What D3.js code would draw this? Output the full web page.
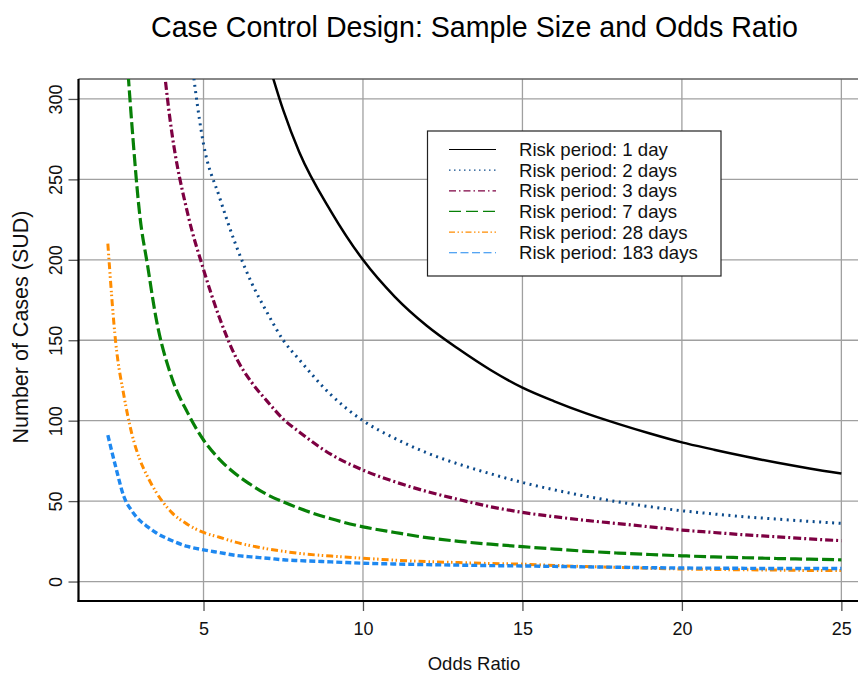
<!DOCTYPE html>
<html>
<head>
<meta charset="utf-8">
<script src="https://cdn.jsdelivr.net/npm/d3@7"></script>
<style>
  html, body { margin: 0; padding: 0; background: #ffffff; }
  svg { display: block; font-family: "Liberation Sans", Arial, sans-serif; }
</style>
</head>
<body>
<div id="chart"></div>
<script>
// ---------- data ----------
const oddsRatio = [2, 2.25, 2.5, 2.75, 3, 3.25, 3.5, 4, 4.5, 5, 5.5, 6, 6.5, 7, 7.5, 8, 9, 10,
                   11, 12, 13, 14, 15, 16, 17, 18, 19, 20, 21, 22, 23, 24, 25];

const risk1day   = [null, null, null, null, null, null, null, null, null, null, null, null, null,
                    325, 293, 267, 230, 200, 177, 159, 144.5, 131.5, 120.5, 112, 104.5, 98, 92, 86.5, 82, 77.7, 73.8, 70.3, 67.2];
const risk2days  = [null, null, null, null, null, null, null, null, 345, 272, 239, 210, 186, 167, 150, 138, 116, 100,
                    89, 80, 73, 67, 61.6, 57, 53, 49.5, 46.5, 44, 42, 40.2, 38.8, 37.4, 36.2];
const risk3days  = [null, null, null, null, null, null, 370, 280, 229, 194, 164, 140, 124, 112, 101, 93, 79, 69.3,
                    62, 56, 51, 46.5, 43, 40.3, 38, 36, 34, 32, 30.5, 29, 27.8, 26.5, 25.4];
const risk7days  = [null, null, 355, 285, 228, 196, 165, 127, 105, 88, 76, 67, 60, 54, 49.5, 45.5, 39, 34,
                    30.5, 27.3, 25, 23.2, 21.7, 20.2, 18.8, 17.7, 16.8, 16, 15.3, 14.8, 14.3, 13.9, 13.5];
const risk28days = [210, 148, 116, 92, 76, 65, 56, 43, 35.5, 30.5, 27.5, 24.5, 22.2, 20.3, 18.8, 17.5, 15.8, 14.5,
                    13.3, 12.4, 11.8, 11.2, 10.8, 10.0, 9.3, 8.8, 8.2, 7.8, 7.5, 7.3, 7.1, 6.9, 6.8];
const risk183days= [91, 71, 53, 44, 38, 34, 30.5, 25.5, 21.8, 19.7, 18, 16.3, 15.3, 14.5, 13.5, 13.0, 12.2, 11.4,
                    10.9, 10.5, 10.2, 9.9, 9.7, 9.4, 9.1, 8.9, 8.6, 8.4, 8.3, 8.2, 8.1, 8.1, 8.1];

const seriesNames = ["Risk period: 1 day", "Risk period: 2 days", "Risk period: 3 days",
                     "Risk period: 7 days", "Risk period: 28 days", "Risk period: 183 days"];
const seriesValues = [risk1day, risk2days, risk3days, risk7days, risk28days, risk183days];

const xTicks = [5, 10, 15, 20, 25];
const yTicks = [0, 50, 100, 150, 200, 250, 300];

const titleText = "Case Control Design: Sample Size and Odds Ratio";
const xLabel = "Odds Ratio";
const yLabel = "Number of Cases (SUD)";

// ---------- styles ----------
const colors = ["#000000", "#0b4a8b", "#7d0042", "#078007", "#ff8c00", "#1e88f0"];
const plotDash = [null, "2,4.5", "8,3,2,3", "12,4", "7,3,1.5,2.5,1.5,3", "6,3"];
const plotWidth = [2.5, 3, 3.2, 3.2, 3, 3.4];
const legendDash = [null, "1.5,3.5", "7,3,1.5,3", "12,5", "6,2.5,1.5,2.5,1.5,2.5", "8,3.5"];

// ---------- layout ----------
const W = 858, H = 676;
const mLeft = 78.5, mRight = 870.7, mTop = 79, mBottom = 601;

const svg = d3.select("#chart").append("svg")
  .attr("width", W).attr("height", H)
  .attr("viewBox", `0 0 ${W} ${H}`);

const x = d3.scaleLinear().domain([1.08, 25.92]).range([mLeft, mRight]);
const y = d3.scaleLinear().domain([-12.1, 312.4]).range([mBottom, mTop]);

svg.append("defs").append("clipPath").attr("id", "plotclip")
  .append("rect").attr("x", mLeft).attr("y", mTop)
  .attr("width", mRight - mLeft).attr("height", mBottom - mTop);

// grid
const grid = svg.append("g");
grid.selectAll("line.v").data(xTicks).enter().append("line")
  .attr("x1", d => x(d)).attr("x2", d => x(d))
  .attr("y1", mTop).attr("y2", mBottom)
  .attr("stroke", "#a0a0a0").attr("stroke-width", 1.3);
grid.selectAll("line.h").data(yTicks).enter().append("line")
  .attr("x1", mLeft).attr("x2", W)
  .attr("y1", d => y(d)).attr("y2", d => y(d))
  .attr("stroke", "#a0a0a0").attr("stroke-width", 1.3);
// top border
svg.append("line").attr("x1", mLeft).attr("x2", W).attr("y1", mTop).attr("y2", mTop)
  .attr("stroke", "#606060").attr("stroke-width", 1.5);

// curves
const line = d3.line()
  .defined(d => d[1] !== null)
  .x(d => x(d[0])).y(d => y(d[1]))
  .curve(d3.curveMonotoneX);

const curves = svg.append("g").attr("clip-path", "url(#plotclip)");
seriesValues.forEach((vals, i) => {
  const pts = oddsRatio.map((o, j) => [o, vals[j]]);
  const p = curves.append("path")
    .attr("d", line(pts))
    .attr("fill", "none")
    .attr("stroke", colors[i])
    .attr("stroke-width", plotWidth[i]);
  if (plotDash[i]) p.attr("stroke-dasharray", plotDash[i]);
});

// axes
const xAxis = d3.axisBottom(x).tickValues(xTicks).tickSize(10).tickPadding(11).tickFormat(d3.format("d"));
const gx = svg.append("g").attr("transform", `translate(0,${mBottom})`).call(xAxis);
gx.select(".domain").remove();
gx.selectAll(".tick line").attr("stroke", "#555").attr("stroke-width", 1.3);
gx.selectAll(".tick text").attr("font-size", 18).attr("fill", "#111")
  .attr("font-family", "'Liberation Sans', Arial, sans-serif");

const yAxis = d3.axisLeft(y).tickValues(yTicks).tickSize(10).tickFormat(d3.format("d"));
const gy = svg.append("g").attr("transform", `translate(${mLeft},0)`).call(yAxis);
gy.select(".domain").remove();
gy.selectAll(".tick line").attr("stroke", "#555").attr("stroke-width", 1.3);
gy.selectAll(".tick text").remove();
gy.selectAll(".tick").append("text")
  .attr("transform", "translate(-17,0) rotate(-90)")
  .attr("text-anchor", "middle")
  .attr("font-size", 18).attr("fill", "#111")
  .attr("font-family", "'Liberation Sans', Arial, sans-serif")
  .text(d => d3.format("d")(d));

// axis lines (black)
svg.append("line").attr("x1", mLeft).attr("x2", mLeft).attr("y1", mTop).attr("y2", mBottom + 1)
  .attr("stroke", "#000").attr("stroke-width", 2.2);
svg.append("line").attr("x1", mLeft - 1).attr("x2", W).attr("y1", mBottom).attr("y2", mBottom)
  .attr("stroke", "#000").attr("stroke-width", 2.2);

// title & labels
svg.append("text").attr("x", 474.5).attr("y", 37)
  .attr("text-anchor", "middle").attr("font-size", 28.6).attr("fill", "#000")
  .text(titleText);
svg.append("text").attr("x", 474).attr("y", 670)
  .attr("text-anchor", "middle").attr("font-size", 18.5).attr("fill", "#111")
  .text(xLabel);
svg.append("text").attr("transform", `translate(27.5,327) rotate(-90)`)
  .attr("text-anchor", "middle").attr("font-size", 21.5).attr("fill", "#111")
  .text(yLabel);

// legend
const lg = svg.append("g");
lg.append("rect").attr("x", 427.5).attr("y", 131).attr("width", 293.5).attr("height", 145)
  .attr("fill", "#fff").attr("stroke", "#222").attr("stroke-width", 1.2);
seriesNames.forEach((name, i) => {
  const yy = 149.5 + i * 20.65;
  const l = lg.append("line").attr("x1", 449).attr("x2", 496).attr("y1", yy).attr("y2", yy)
    .attr("stroke", colors[i]).attr("stroke-width", 1.2);
  if (legendDash[i]) l.attr("stroke-dasharray", legendDash[i]);
  lg.append("text").attr("x", 519).attr("y", yy).attr("dy", "0.36em")
    .attr("font-size", 18.6).attr("fill", "#111").text(name);
});
</script>
</body>
</html>
